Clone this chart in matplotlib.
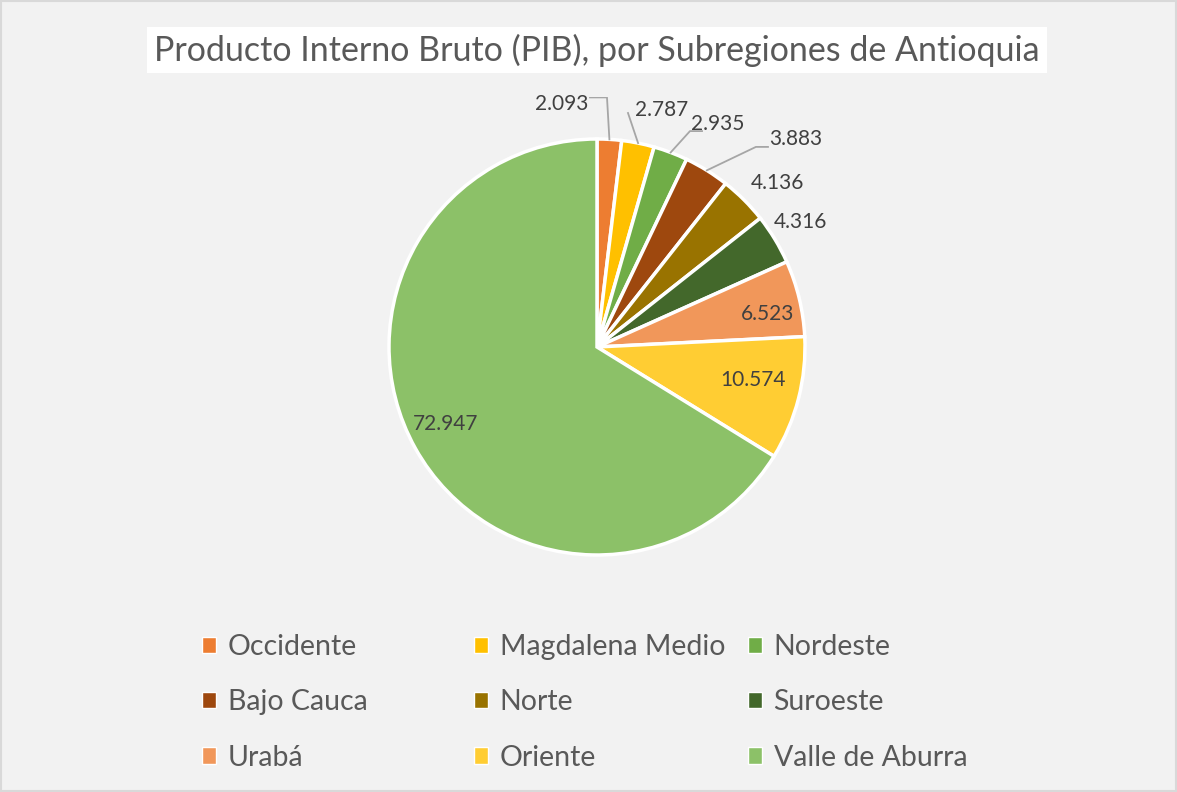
import numpy as np
import matplotlib.pyplot as plt
from matplotlib.patches import Patch

plt.rcParams['font.family'] = ['Lato', 'DejaVu Sans']

# Datos
regiones = ["Occidente", "Magdalena Medio", "Nordeste", "Bajo Cauca", "Norte",
            "Suroeste", "Urabá", "Oriente", "Valle de Aburra"]
pib = [2.093, 2.787, 2.935, 3.883, 4.136, 4.316, 6.523, 10.574, 72.947]
etiquetas = ["2.093", "2.787", "2.935", "3.883", "4.136", "4.316", "6.523", "10.574", "72.947"]
colores = ["#ED7D31", "#FFC000", "#70AD47", "#9E480E", "#997300",
           "#43682B", "#F1975A", "#FFCD33", "#8CC168"]

# posición de cada etiqueta (en radios del pastel) y codo de la línea guía (None = sin guía)
pos_etiquetas = [(-0.17, 1.17), (0.31, 1.14), (0.58, 1.07), (0.955, 1.0), (0.87, 0.79),
                 (0.98, 0.60), (0.82, 0.16), (0.75, -0.16), (-0.73, -0.37)]
guias = [[(-0.034, 1.2), (0.048, 1.2)], [(0.149, 1.125)],
         [(0.505, 1.038), (0.447, 1.038)], [(0.822, 0.962), (0.764, 0.962)],
         None, None, None, None, None]

BG = "#F2F2F2"
TXT = "#404040"

fig = plt.figure(figsize=(11.77, 7.92), dpi=100, facecolor=BG)
fig.patches.append(plt.Rectangle((0.001, 0.001), 0.998, 0.998, transform=fig.transFigure,
                                 fill=False, edgecolor="#D9D9D9", lw=1.5))

W, H = 1177, 792
cx, cy, r = 597, 347, 208
aw, ah = 600, 500
ax = fig.add_axes([(cx - aw / 2) / W, (H - cy - ah / 2) / H, aw / W, ah / H])
ax.set_facecolor(BG)

wedges, _ = ax.pie(pib, colors=colores, startangle=90, counterclock=False,
                   wedgeprops=dict(edgecolor="white", linewidth=2.5))
ax.set_xlim(-aw / 2 / r, aw / 2 / r)
ax.set_ylim(-ah / 2 / r, ah / 2 / r)
ax.set_aspect("equal")
ax.axis("off")

for w, lab, (x, y), guia in zip(wedges, etiquetas, pos_etiquetas, guias):
    ax.text(x, y, lab, ha="center", va="center", fontsize=15, color=TXT)
    if guia:
        ang = np.deg2rad((w.theta1 + w.theta2) / 2)
        pts = guia + [(np.cos(ang), np.sin(ang))]
        xs, ys = zip(*pts)
        ax.plot(xs, ys, color="#A6A6A6", lw=1.3)

# Título
fig.text(cx / W, 1 - 50 / H, "Producto Interno Bruto (PIB), por Subregiones de Antioquia",
         ha="center", va="center", fontsize=24.5, color="#595959",
         bbox=dict(facecolor="white", edgecolor="none", pad=5))

# Leyenda: tres columnas de igual ancho, orden por filas
cols_x = [202, 474, 748]
for j, xcol in enumerate(cols_x):
    idx = [j, j + 3, j + 6]
    leg = fig.legend([Patch(facecolor=colores[i], edgecolor="white", linewidth=1) for i in idx],
                     [regiones[i] for i in idx],
                     loc="upper left", bbox_to_anchor=(xcol / W, 1 - 634 / H),
                     frameon=False, fontsize=20.5, handlelength=0.5, handleheight=0.5,
                     handletextpad=0.4, borderpad=0, borderaxespad=0, labelspacing=1.03)
    for t in leg.get_texts():
        t.set_color("#595959")

fig.savefig("out.png", dpi=100, facecolor=BG)
